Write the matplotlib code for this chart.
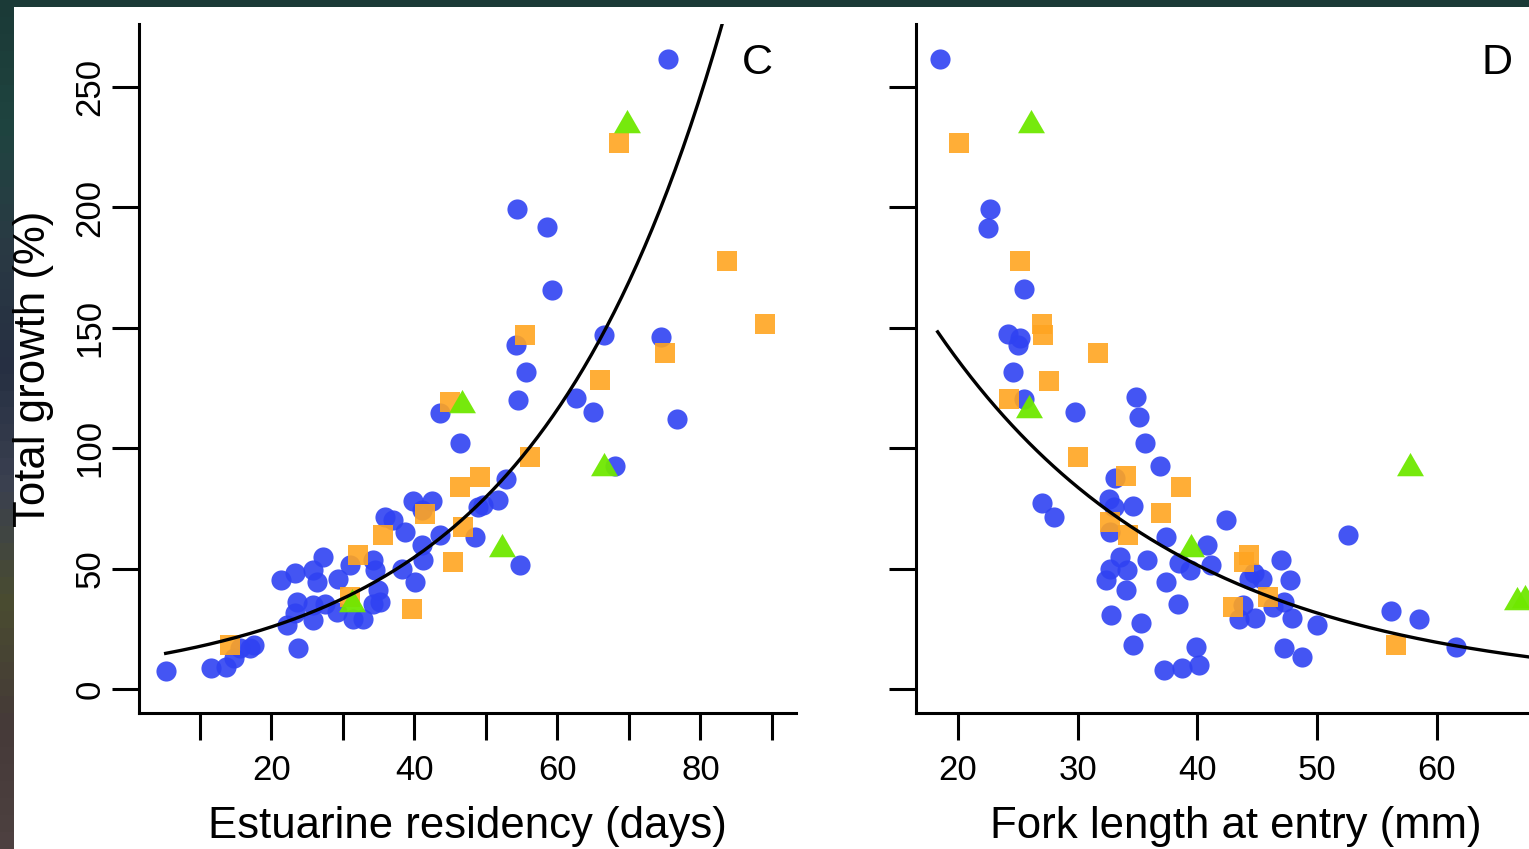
import numpy as np
import matplotlib
matplotlib.use('Agg')
import matplotlib.pyplot as plt
from matplotlib.colors import LinearSegmentedColormap

plt.rcParams['font.family'] = ['Liberation Sans', 'DejaVu Sans']

# panel C: estuarine residency (days) vs total growth (%)
c_blue_x = [5.2, 11.6, 13.6, 14.7, 15.6, 17.0, 17.5, 23.7, 22.1, 21.4, 23.3, 23.5, 23.3, 25.8, 25.8,
            26.3, 25.8, 27.2, 27.5, 29.1, 29.3, 31.0, 31.4, 32.8, 34.2, 34.5, 34.9, 35.2, 34.2, 35.9,
            37.0, 38.7, 38.2, 40.1, 39.8, 41.0, 42.4, 41.0, 41.2, 43.6, 43.6, 46.3, 48.5, 48.9, 49.6,
            51.7, 52.8, 54.7, 54.5, 54.2, 55.6, 54.4, 58.5, 59.3, 62.6, 64.9, 66.5, 68.0, 74.5, 76.7, 75.5]
c_blue_y = [7.6, 8.7, 9.3, 12.7, 16.9, 16.9, 18.3, 16.9, 26.6, 45.3, 48.3, 36.2, 31.4, 28.7, 34.9,
            44.6, 49.4, 54.9, 35.5, 32.0, 45.8, 51.5, 29.2, 29.2, 53.6, 49.4, 41.1, 36.2, 35.5, 71.6,
            70.2, 65.4, 50.0, 44.6, 77.9, 74.3, 77.9, 59.8, 53.6, 64.0, 114.5, 102.3, 63.2, 75.7, 76.4,
            78.5, 87.4, 51.5, 120.2, 142.9, 131.8, 199.3, 192.0, 165.9, 121.0, 115.0, 147.2, 92.7, 146.0, 112.3, 261.8]
c_orange_x = [14.2, 31.0, 32.1, 35.6, 39.6, 41.5, 45.0, 46.4, 49.2, 46.8, 45.4, 56.2, 55.5, 66.0,
              68.6, 75.0, 83.7, 89.0]
c_orange_y = [18.3, 38.3, 55.6, 64.0, 33.4, 72.8, 119.3, 83.9, 88.1, 67.4, 52.9, 96.5, 147.0, 128.3,
              226.9, 139.6, 177.8, 151.7]
c_green_x = [31.2, 46.6, 52.2, 66.5, 69.7]
c_green_y = [35.5, 117.9, 58.3, 91.6, 234.2]

# panel D: fork length at entry (mm) vs total growth (%)
d_blue_x = [18.5, 22.7, 22.5, 25.5, 24.2, 25.2, 25.0, 24.6, 25.5, 29.8, 34.9, 35.1, 35.6, 36.9, 33.1,
            27.0, 28.0, 32.6, 33.0, 34.6, 32.7, 37.4, 40.8, 42.4, 33.5, 34.1, 32.7, 32.4, 35.8, 34.0,
            38.5, 39.4, 41.1, 37.4, 32.8, 38.4, 35.3, 34.6, 39.9, 37.2, 38.7, 40.1, 52.6, 47.0, 44.7,
            45.4, 44.3, 47.7, 46.3, 47.2, 43.8, 43.5, 44.8, 47.9, 50.0, 56.2, 58.5, 61.6, 47.2, 48.7]
d_blue_y = [261.8, 199.3, 191.6, 166.0, 147.3, 145.6, 142.9, 131.8, 120.3, 115.2, 121.4, 113.1, 102.3, 92.6, 87.5,
            77.4, 71.3, 78.8, 75.7, 76.0, 65.3, 63.2, 59.8, 70.2, 54.9, 49.4, 50.0, 45.3, 53.6, 41.1,
            52.2, 49.4, 51.5, 44.6, 30.7, 35.5, 27.3, 18.3, 17.6, 7.9, 8.6, 10.0, 64.0, 53.6, 48.0,
            45.8, 45.8, 45.3, 34.2, 36.2, 34.9, 29.2, 29.6, 29.6, 26.6, 32.4, 28.9, 17.3, 16.9, 13.2]
d_orange_x = [20.1, 25.2, 27.0, 27.1, 31.7, 27.6, 24.3, 30.0, 34.0, 38.6, 37.0, 32.7, 34.2, 44.3,
              43.9, 45.9, 43.0, 56.6]
d_orange_y = [226.9, 177.8, 151.8, 147.0, 139.7, 128.0, 120.3, 96.5, 88.6, 83.7, 72.9, 69.5, 64.0, 55.6,
              52.9, 38.3, 34.2, 18.3]
d_green_x = [26.1, 25.9, 39.5, 57.8, 66.7, 67.4]
d_green_y = [234.2, 116.0, 58.3, 91.6, 36.2, 37.0]

# exponential fits (a * exp(b * x))
c_fit = (12.17, 0.0376, 5.2, 85.0)
d_fit = (362.3, -0.0488, 18.3, 70.0)

BLUE = '#2f42f2'
ORANGE = '#ffa521'
GREEN = '#6fe800'
tri = [(-1, -0.577), (1, -0.577), (0, 1.155)]

W, H = 1529, 849
fig = plt.figure(figsize=(W / 100, H / 100), dpi=100)
fig.patch.set_facecolor('#1b3a37')

# dark slide strip on the left
bg = fig.add_axes([0, 0, 14 / W, 1])
bg.axis('off')
cmap = LinearSegmentedColormap.from_list('bg', ['#1b3a37', '#1f4440', '#2a3a44', '#262f42',
                                                '#3a4050', '#4a4c30', '#453a38', '#4d4040'])
bg.imshow(np.linspace(0, 1, 50)[:, None], aspect='auto', cmap=cmap)
fig.add_artist(plt.Rectangle((14 / W, 0), 1, 1 - 7 / H, transform=fig.transFigure,
                             facecolor='white', edgecolor='none', zorder=0))


def style(ax, xlim):
    ax.set_facecolor('none')
    ax.set_xlim(*xlim)
    ax.set_ylim(-9.97, 276.2)
    for s in ['top', 'right']:
        ax.spines[s].set_visible(False)
    for s in ['left', 'bottom']:
        ax.spines[s].set_linewidth(2.2)
    ax.tick_params(length=19.5, width=2.2, labelsize=25, direction='out')
    ax.tick_params(axis='x', pad=10)
    ax.set_yticks([0, 50, 100, 150, 200, 250])


def draw(ax, bx, by, ox, oy, gx, gy, fit):
    ax.scatter(bx, by, s=14.5 ** 2, marker='o', color=BLUE, alpha=0.9, linewidths=0, zorder=3)
    ax.scatter(ox, oy, s=14.5 ** 2, marker='s', color=ORANGE, alpha=0.9, linewidths=0, zorder=3)
    ax.scatter(gx, gy, s=22.4 ** 2, marker=tri, color=GREEN, alpha=0.95, linewidths=0, zorder=3)
    a, b, x0, x1 = fit
    xs = np.linspace(x0, x1, 300)
    ax.plot(xs, a * np.exp(b * xs), color='black', lw=2.4, zorder=4)


axC = fig.add_axes([139 / W, 1 - 713 / H, (796 - 139) / W, (713 - 24) / H])
style(axC, (1.47, 93.36))
draw(axC, c_blue_x, c_blue_y, c_orange_x, c_orange_y, c_green_x, c_green_y, c_fit)
axC.set_xticks(range(10, 91, 10))
axC.set_xticklabels(['' if v % 20 else str(v) for v in range(10, 91, 10)])
for lab in axC.get_yticklabels():
    lab.set_rotation(90)
    lab.set_va('center')
axC.tick_params(axis='y', pad=4)
axC.set_xlabel('Estuarine residency (days)', fontsize=31.5, labelpad=14)
axC.set_ylabel('Total growth (%)', fontsize=31.5, labelpad=14)
axC.text(0.9406, 0.9434, 'C', transform=axC.transAxes, fontsize=31, ha='center', va='center')

right_px = 958 + 50 * 11.97
axD = fig.add_axes([916 / W, 1 - 713 / H, (right_px - 916) / W, (713 - 24) / H])
style(axD, (16.49, 70))
draw(axD, d_blue_x, d_blue_y, d_orange_x, d_orange_y, d_green_x, d_green_y, d_fit)
axD.set_xticks([20, 30, 40, 50, 60, 70])
axD.set_xticklabels(['20', '30', '40', '50', '60', ''])
axD.set_yticklabels([])
axD.set_xlabel('Fork length at entry (mm)', fontsize=31.5, labelpad=14)
fig.text(1497 / W, 1 - 63 / H, 'D', fontsize=31, ha='center', va='center')

fig.savefig('out.png', dpi=100)
